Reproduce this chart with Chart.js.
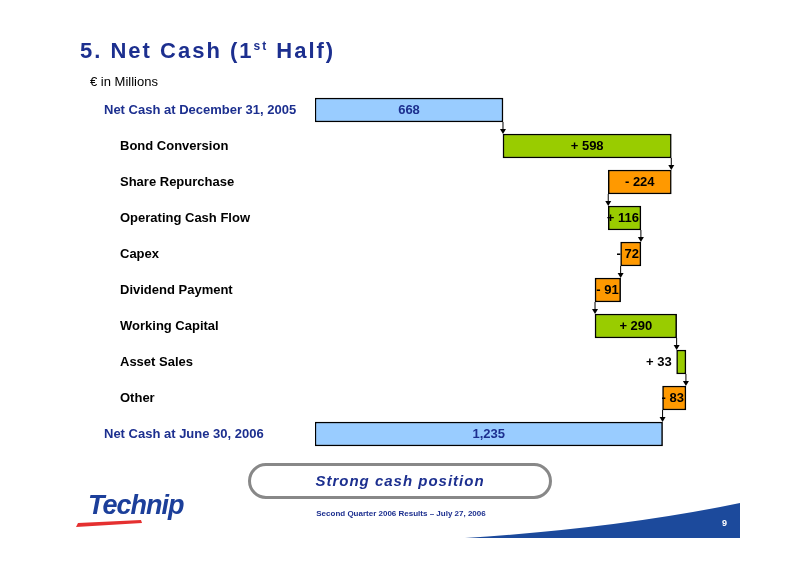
<!DOCTYPE html>
<html>
<head>
<meta charset="utf-8">
<script src="https://cdn.jsdelivr.net/npm/chart.js@4"></script>
<style>
body { margin: 0; width: 800px; height: 565px; background: #fff; position: relative; overflow: hidden; font-family: "Liberation Sans", Arial, sans-serif; }
#wrap { position: absolute; left: 0; top: 0; width: 800px; height: 565px; }
.t { position: absolute; white-space: nowrap; }
</style>
</head>
<body>
<div id="wrap"><canvas id="grafico"></canvas></div>
<div class="t" style="left:80px;top:38px;font-size:22px;font-weight:bold;color:#1c2f8f;letter-spacing:2px;">5. Net Cash (1<sup style="font-size:12px">st</sup> Half)</div>
<div class="t" style="left:90px;top:74px;font-size:13px;color:#000;">€ in Millions</div>
<div class="t" style="left:248px;top:463px;width:304px;height:36px;border:3px solid #888;border-radius:18px;box-sizing:border-box;"></div>
<div class="t" style="left:248px;top:472px;width:304px;text-align:center;font-size:15px;font-weight:bold;font-style:italic;color:#1c2f8f;letter-spacing:1px;">Strong cash position</div>
<div class="t" style="left:88px;top:490px;font-size:27px;font-weight:bold;font-style:italic;color:#1c3f9a;letter-spacing:-1px;">Technip</div>
<svg class="t" style="left:0;top:0" width="800" height="565">
  <path d="M76 527 L142 523 L141 520 L78 523 Z" fill="#e53030"/>
  <path d="M465 538 Q620 528 740 503 L740 538 Z" fill="#1c4a9c"/>
</svg>
<div class="t" style="left:236px;top:509px;width:330px;text-align:center;font-size:8px;font-weight:bold;color:#1c2f8f;">Second Quarter 2006 Results – July 27, 2006</div>
<div class="t" style="left:722px;top:518px;font-size:9px;font-weight:bold;color:#fff;">9</div>
<script>
const categorias = ['Net Cash at December 31, 2005', 'Bond Conversion', 'Share Repurchase', 'Operating Cash Flow', 'Capex', 'Dividend Payment', 'Working Capital', 'Asset Sales', 'Other', 'Net Cash at June 30, 2006'];
const variacoes = [668, 598, -224, 116, -72, -91, 290, 33, -83, 1235];
const rotulos = ['668', '+ 598', '- 224', '+ 116', '- 72', '- 91', '+ 290', '+ 33', '- 83', '1,235'];
const totais = [true, false, false, false, false, false, false, false, false, true];

// monta os intervalos [inicio, fim] de cada barra
const intervalos = [];
let acumulado = 0;
variacoes.forEach((v, i) => {
    if (totais[i]) { intervalos.push([0, v]); acumulado = v; }
    else { intervalos.push([acumulado, acumulado + v]); acumulado += v; }
});
const cores = variacoes.map((v, i) => totais[i] ? '#99ccff' : (v >= 0 ? '#99cc00' : '#ff9900'));

const extras = {
    id: 'extras',
    afterDatasetsDraw(chart) {
        const c = chart.ctx;
        const meta = chart.getDatasetMeta(0);
        const x = chart.scales.x;
        c.save();
        // setas de ligação
        c.strokeStyle = '#000'; c.fillStyle = '#000'; c.lineWidth = 1;
        for (let i = 0; i < meta.data.length - 1; i++) {
            const b = meta.data[i], n = meta.data[i + 1];
            const px = x.getPixelForValue(intervalos[i][1]);
            const y1 = b.y + b.height / 2, y2 = n.y - n.height / 2;
            c.beginPath(); c.moveTo(px, y1); c.lineTo(px, y2 - 4); c.stroke();
            c.beginPath(); c.moveTo(px - 3, y2 - 5); c.lineTo(px + 3, y2 - 5); c.lineTo(px, y2); c.closePath(); c.fill();
        }
        // rótulos de valores
        c.font = 'bold 13px "Liberation Sans", Arial';
        c.textBaseline = 'middle';
        meta.data.forEach((b, i) => {
            const a = x.getPixelForValue(Math.min(...intervalos[i]));
            const z = x.getPixelForValue(Math.max(...intervalos[i]));
            c.fillStyle = totais[i] ? '#1c2f8f' : '#000';
            const w = z - a;
            if (w > 40) { c.textAlign = 'center'; c.fillText(rotulos[i], (a + z) / 2, b.y); }
            else if (w > 24) { c.textAlign = 'right'; c.fillText(rotulos[i], z - 2, b.y); }
            else if (w > 15) { c.textAlign = 'right'; c.fillText(rotulos[i], z - 2, b.y); }
            else { c.textAlign = 'right'; c.fillText(rotulos[i], a - 5, b.y); }
        });
        // nomes das categorias
        c.textAlign = 'left';
        meta.data.forEach((b, i) => {
            c.fillStyle = totais[i] ? '#1c2f8f' : '#000';
            c.fillText(categorias[i], totais[i] ? 104 : 120, b.y);
        });
        c.restore();
    }
};

new Chart(document.getElementById('grafico'), {
    type: 'bar',
    data: {
        labels: categorias,
        datasets: [{
            data: intervalos,
            backgroundColor: cores,
            borderColor: '#000',
            borderWidth: 1.5,
            borderSkipped: false,
            barThickness: 24
        }]
    },
    options: {
        indexAxis: 'y',
        responsive: true,
        maintainAspectRatio: false,
        animation: false,
        layout: { padding: { left: 315, right: 91, top: 92, bottom: 113 } },
        plugins: { legend: { display: false }, tooltip: { enabled: false } },
        scales: {
            x: { min: 0, max: 1400, display: false },
            y: { display: false }
        }
    },
    plugins: [extras]
});
</script>
</body>
</html>
